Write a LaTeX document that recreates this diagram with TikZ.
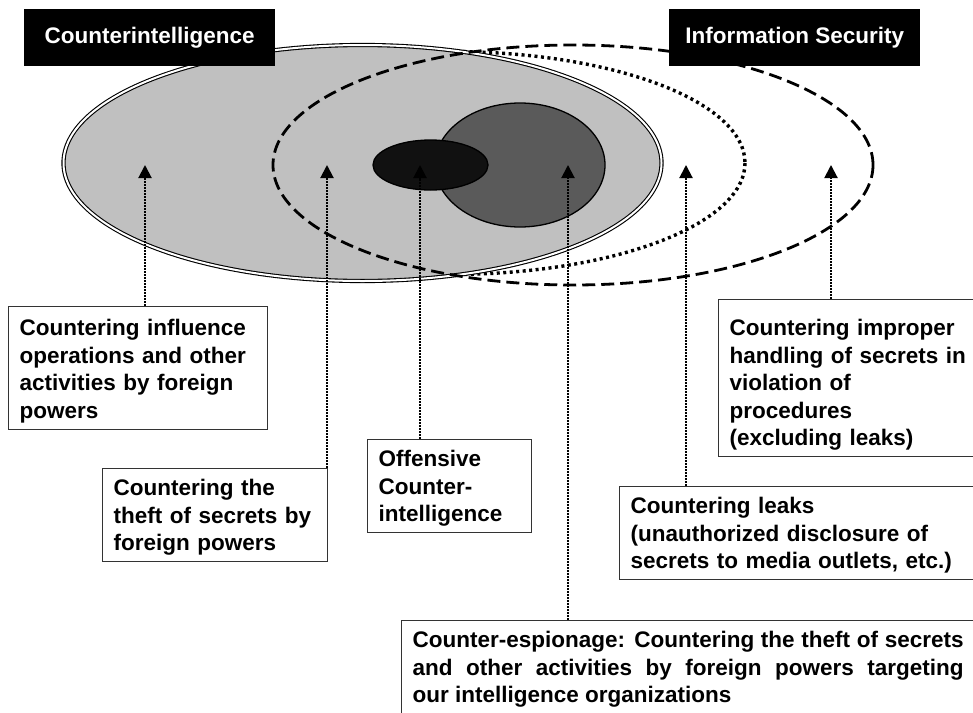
\documentclass[tikz,border=0pt]{standalone}
\usepackage{fontspec}
\setmainfont{Liberation Sans}
\usetikzlibrary{arrows.meta}

\newcommand\boxfont{\fontsize{22.5}{27.5}\selectfont\bfseries}
\newcommand\calloutTop{27pt}
\newcommand\calloutBot{11pt}

\definecolor{ringgray}{HTML}{C0C0C0}
\definecolor{coregray}{HTML}{5A5A5A}
\definecolor{nearblack}{HTML}{111111}

\tikzset{
  title/.style={fill=black, text=white, font=\boxfont, anchor=north west,
    minimum width=251pt, minimum height=57pt, inner sep=0pt},
  callout/.style={draw=black!80, line width=1.2pt, fill=white, anchor=north west,
    align=left, inner xsep=11pt, inner ysep=0pt, font=\boxfont,
    execute at begin node={\rule{0pt}{\calloutTop}},
    execute at end node={\rule[-\calloutBot]{0pt}{\calloutBot}}},
  top gap/.code={\def\calloutTop{#1}},
  bottom gap/.code={\def\calloutBot{#1}},
  pointer/.style={line width=2pt, dash pattern=on 1.6pt off 1.4pt,
    -{Triangle[width=13pt,length=13pt]}},
}

\begin{document}
\begin{tikzpicture}[x=1pt,y=-1pt]
    \useasboundingbox (0,0) rectangle (973,712);

% the rings
\draw[line width=3.4pt, dash pattern=on 3pt off 3.5pt] (450,163) ellipse (295 and 111.5);
\draw[fill=ringgray, line width=1.1pt, double=white, double distance=2pt] (362.5,163) ellipse (299 and 118);
\draw[line width=2.8pt, dash pattern=on 13pt off 6pt] (573,165) ellipse (300 and 120);
\draw[fill=coregray, line width=1.3pt] (520,165) ellipse (85 and 62);
\draw[fill=nearblack, line width=1.3pt] (430.5,165) ellipse (57.5 and 25);

% arrow tips
\coordinate (tipInf) at (145,165);
\coordinate (tipTheft) at (327,165);
\coordinate (tipOff) at (420,165);
\coordinate (tipEsp) at (568,165);
\coordinate (tipLeak) at (686,165);
\coordinate (tipImp) at (831,165);

% callouts
\node[callout, text width=237pt, top gap=29pt] (influence) at (8,306)
  {Countering influence\\operations and other\\activities by foreign\\powers};
\node[callout, text width=203pt] (theft) at (102,468)
  {Countering the\\theft of secrets by\\foreign powers};
\node[callout, text width=142pt] (offensive) at (367,439)
  {Offensive\\Counter-\\intelligence};
\node[callout, text width=260pt, top gap=36pt] (improper) at (718,299)
  {Countering improper\\handling of secrets in\\violation of\\procedures\\(excluding leaks)};
\node[callout, text width=350pt] (leaks) at (619,486)
  {Countering leaks\\(unauthorized disclosure of\\secrets to media outlets, etc.)};
\node[callout, align=justify, text width=551pt, bottom gap=24pt] (espionage) at (401,620)
  {Counter-espionage: Countering the theft of secrets\linebreak and other activities by foreign powers targeting\linebreak our intelligence organizations};

\draw[pointer] (influence.north -| tipInf) -- (tipInf);
\draw[pointer] (theft.north -| tipTheft) -- (tipTheft);
\draw[pointer] (offensive.north -| tipOff) -- (tipOff);
\draw[pointer] (espionage.north -| tipEsp) -- (tipEsp);
\draw[pointer] (leaks.north -| tipLeak) -- (tipLeak);
\draw[pointer] (improper.north -| tipImp) -- (tipImp);

% titles
\node[title] (ci) at (24,9) {Counterintelligence};
\node[title] (infosec) at (669,9) {Information Security};

\end{tikzpicture}
\end{document}
